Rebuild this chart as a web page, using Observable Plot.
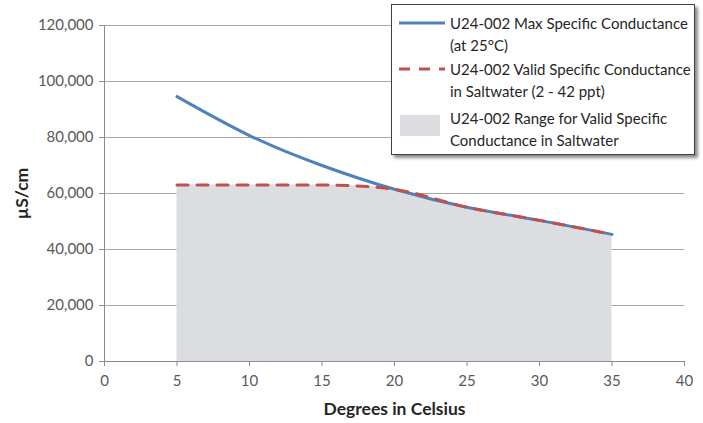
<!DOCTYPE html>
<html><head><meta charset="utf-8">
<script src="https://cdn.jsdelivr.net/npm/d3@7"></script>
<script src="https://cdn.jsdelivr.net/npm/@observablehq/plot@0.6"></script>
<style>
body{margin:0;background:#fff;font-family:Lato,"Open Sans",sans-serif;}
#wrap{position:relative;width:703px;height:423px;}
#legend{position:absolute;left:391px;top:4px;width:304px;height:151px;background:#fff;border:1px solid #404040;box-shadow:3px 3px 3px rgba(0,0,0,0.45);box-sizing:border-box;font-size:15px;color:#262626;}
.item{position:absolute;left:58px;line-height:21.5px;white-space:nowrap;}
.sym{position:absolute;}
</style></head>
<body><div id="wrap"><div id="chart"></div>
<div id="legend">
 <svg class="sym" style="left:7px;top:14px" width="46" height="8"><line x1="0" y1="4" x2="46" y2="4" stroke="#4f81bd" stroke-width="3"/></svg>
 <div class="item" style="top:8px">U24-002 Max Specific Conductance<br>(at 25°C)</div>
 <svg class="sym" style="left:7px;top:60px" width="46" height="8"><line x1="0" y1="4" x2="46" y2="4" stroke="#c0504d" stroke-width="3" stroke-dasharray="11,9"/></svg>
 <div class="item" style="top:54px">U24-002 Valid Specific Conductance<br>in Saltwater (2 - 42 ppt)</div>
 <div class="sym" style="left:8px;top:110px;width:40px;height:21px;background:#dcdde0"></div>
 <div class="item" style="top:103px">U24-002 Range for Valid Specific<br>Conductance in Saltwater</div>
</div></div>
<script>
const maxTemp = [5, 10, 15, 20, 25, 30, 35];
const maxCond = [94600, 80700, 70000, 61500, 55100, 50400, 45400];
const validTemp = [5, 10, 15, 17, 20, 25, 30, 35];
const validCond = [63000, 63000, 63000, 62800, 61500, 55100, 50400, 45400];
const xTicks = [0, 5, 10, 15, 20, 25, 30, 35, 40];
const yTicks = [0, 20000, 40000, 60000, 80000, 100000, 120000];

const maxData = maxTemp.map((t, i) => ({t, v: maxCond[i]}));
const validData = validTemp.map((t, i) => ({t, v: validCond[i]}));
const fmt = d3.format(",");

const chart = Plot.plot({
  width: 703, height: 423,
  marginLeft: 104, marginRight: 19, marginTop: 25, marginBottom: 62,
  style: {fontFamily: "Lato, 'Open Sans', sans-serif", fontSize: "15px", background: "#fff"},
  x: {domain: [0, 40]},
  y: {domain: [0, 120000]},
  marks: [
    Plot.gridY(yTicks, {stroke: "#a6a6a6", strokeOpacity: 1}),
    Plot.areaY(validData, {x: "t", y: "v", fill: "#dcdde0", curve: "monotone-x"}),
    Plot.ruleX([0], {stroke: "#8c8c8c"}),
    Plot.ruleY([0], {stroke: "#8c8c8c"}),
    Plot.axisY(yTicks, {tickSize: 5, stroke: "#8c8c8c", tickFormat: fmt, fill: "#595959", label: null, tickPadding: 6}),
    Plot.axisX(xTicks, {tickSize: 5, stroke: "#8c8c8c", fill: "#595959", label: null, tickPadding: 9}),
    Plot.line(maxData, {x: "t", y: "v", stroke: "#4f81bd", strokeWidth: 3, curve: "natural"}),
    Plot.line(validData, {x: "t", y: "v", stroke: "#c0504d", strokeWidth: 3, strokeDasharray: "11,9", curve: "monotone-x"}),
    Plot.text(["Degrees in Celsius"], {frameAnchor: "bottom", dy: 53, fontWeight: "bold", fontSize: 17.5, fill: "#262626"}),
    Plot.text(["µS/cm"], {frameAnchor: "left", dx: -82, rotate: -90, textAnchor: "middle", fontWeight: "bold", fontSize: 17.5, fill: "#262626"})
  ]
});
document.getElementById("chart").appendChild(chart);
</script></body></html>
